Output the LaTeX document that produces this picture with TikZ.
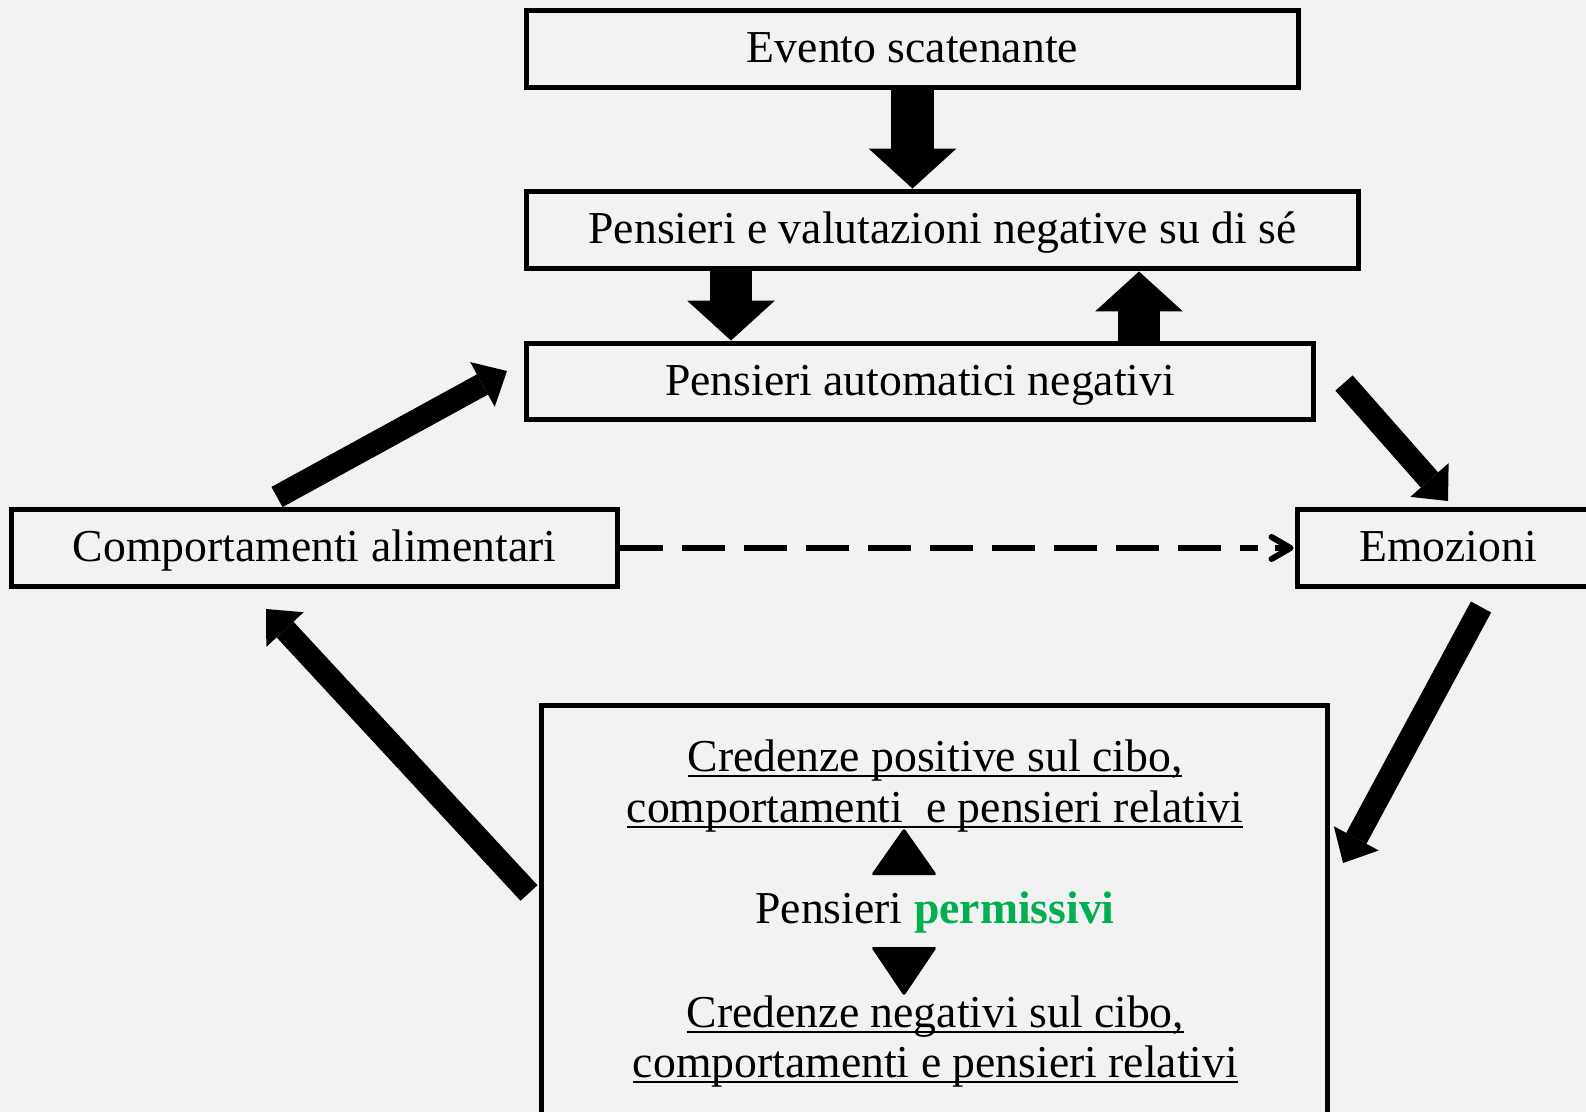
\documentclass[tikz,border=0pt]{standalone}
\usepackage{fontspec}
\setmainfont{Liberation Serif}
\usetikzlibrary{arrows.meta,calc}
\definecolor{bg}{HTML}{F2F2F2}
\definecolor{pgreen}{HTML}{00B050}
\newcommand\ulline[1]{\setbox0=\hbox{#1}\rlap{\rule[-3.6pt]{\wd0}{1.4pt}}\box0}
\begin{document}
\begin{tikzpicture}[x=0.02cm,y=-0.02cm,
  txtfont/.style={font=\fontsize{26}{30}\selectfont},
  box/.style={draw, line width=0.1cm, rectangle, inner sep=0pt, txtfont,
    text height=19pt, text depth=3.6pt},
  txt/.style={inner sep=0pt, txtfont},
  bigarrow/.style={line width=0.85cm, -{Triangle[width=1.76cm,length=0.8cm,line width=0pt]}},
  diagarrow/.style={line width=0.46cm, -{Triangle[width=1.02cm,length=0.56cm,line width=0pt]}},
  trifill/.style={fill=black, rounded corners=1.5pt},
  dashline/.style={line width=0.11cm, dash pattern=on 0.86cm off 0.38cm},
  chevron/.style={line width=0.12cm, line cap=round, line join=round}
]
\clip (0,0) rectangle (1586,1112);
\fill[bg] (0,0) rectangle (1586,1112);

% boxes
\node[box, minimum width=15.46cm, minimum height=1.56cm] (b1) at (912.5,49) {Evento scatenante};
\node[box, minimum width=16.66cm, minimum height=1.56cm] (b2) at (942.5,230) {Pensieri e valutazioni negative su di sé};
\node[box, minimum width=15.76cm, minimum height=1.54cm] (b3) at (920,381.5) {Pensieri automatici negativi};
\node[box, minimum width=12.14cm, minimum height=1.56cm] (b4) at (314.5,548) {Comportamenti alimentari};
\node[box, minimum width=6.04cm, minimum height=1.56cm] (b5) at (1448,548) {Emozioni};
\node[box, minimum width=15.74cm, minimum height=8.5cm] (b6) at (934.5,917.5) {};

% texts inside the big box
\node[txt, anchor=base] (p1) at (935,771) {\ulline{Credenze positive sul cibo,}};
\node[txt, anchor=base] (p2) at (935,822) {\ulline{comportamenti\ \ e pensieri relativi}};
\node[txt, anchor=base] (pm) at (935,923) {Pensieri \textcolor{pgreen}{\bfseries permissivi}};
\node[txt, anchor=base] (n1) at (935.5,1027) {\ulline{Credenze negativi sul cibo,}};
\node[txt, anchor=base] (n2) at (935.5,1077) {\ulline{comportamenti e pensieri relativi}};

% vertical block arrows
\coordinate (c2) at (731,0);
\coordinate (c3) at (1139,0);
\draw[bigarrow] (b1.south) -- (b2.north -| b1.south);
\draw[bigarrow] (b2.south -| c2) -- (b3.north -| c2);
\draw[bigarrow] (b3.north -| c3) -- (b2.south -| c3);

% diagonal arrows
\coordinate (a4s) at (277,497);  \coordinate (a4e) at (507,371);
\coordinate (a5s) at (1344,383); \coordinate (a5e) at (1448,501);
\coordinate (a6s) at (1481,607); \coordinate (a6e) at (1343,863);
\coordinate (a7s) at (529,893);  \coordinate (a7e) at (266,609);
\draw[diagarrow] (a4s) -- (a4e);
\draw[diagarrow] (a5s) -- (a5e);
\draw[diagarrow] (a6s) -- (a6e);
\draw[diagarrow] (a7s) -- (a7e);

% dashed connector with open chevron head
\coordinate (dend) at ($(b5.west)+(-37,0)$);
\draw[dashline] (b4.east) -- (dend);
\draw[chevron] ($(b5.west)+(-23,-11)$) -- ($(b5.west)+(-4,0)$) -- ($(b5.west)+(-23,11)$);
\draw[line width=0.11cm] ($(b5.west)+(-20,0)$) -- ($(b5.west)+(-4,0)$);

% triangles inside the big box
\fill[trifill] (871,875) -- (904,828) -- (937,875) -- cycle;
\fill[trifill] (871,947) -- (937,947) -- (904,996) -- cycle;
\end{tikzpicture}
\end{document}
